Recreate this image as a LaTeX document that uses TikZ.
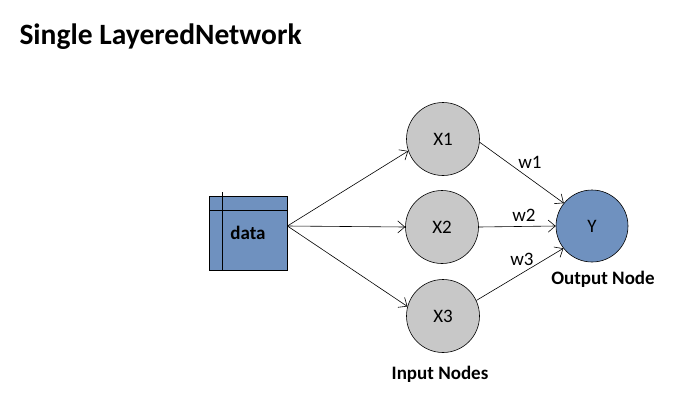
\documentclass[tikz,border=0pt]{standalone}
\usepackage{fontspec}
\setmainfont{Carlito}
\usetikzlibrary{arrows.meta}
\definecolor{nodeblue}{RGB}{111,145,191}
\definecolor{nodegray}{RGB}{200,200,200}
\begin{document}
\begin{tikzpicture}[x=1pt,y=-1pt,
  neuron/.style={circle,draw=black,line width=0.6pt,minimum size=73pt,inner sep=0pt,font=\fontsize{19}{21}\selectfont},
  conn/.style={line width=0.6pt,-{Straight Barb[length=7pt,width=12pt,line width=0.6pt]}},
  lbl/.style={font=\fontsize{19}{21}\selectfont},
  blbl/.style={font=\bfseries\fontsize{19}{21}\selectfont}]
\useasboundingbox (0,0) rectangle (690,418);
\node[anchor=west,font=\bfseries\fontsize{29.5}{32}\selectfont] (title) at (16,37) {Single LayeredNetwork};
% data box
\node[draw=black,fill=nodeblue,line width=0.8pt,minimum width=78pt,minimum height=74pt,inner sep=0pt] (data) at (248,233) {};
\draw[line width=0.8pt] (209,210) -- (287,210);
\draw[line width=0.8pt] (222.5,192) -- (222.5,270);
\node[blbl] (datalbl) at (248,233) {data};
\coordinate (dout) at ([yshift=7pt]data.east);
% nodes
\node[neuron,fill=nodegray] (x1) at (443,139) {X1};
\node[neuron,fill=nodegray] (x2) at (442,227) {X2};
\node[neuron,fill=nodegray] (x3) at (443,316) {X3};
\node[neuron,fill=nodeblue,minimum size=72pt] (y) at (592,226) {Y};
% connectors
\draw[conn] (dout) -- (x1.199);
\draw[conn] (dout) -- (x2.west);
\draw[conn] (dout) -- (x3.165);
\draw[conn] (x1.-5) -- (y.141);
\draw[conn] (x2.east) -- (y.west);
\draw[conn] (x3.25) -- (y.218);
% labels
\node[lbl] (w1) at (530,162) {w1};
\node[lbl] (w2) at (524,215) {w2};
\node[lbl] (w3) at (522,259) {w3};
\node[blbl] (outlbl) at (603,279) {Output Node};
\node[blbl] (inlbl) at (440,374) {Input Nodes};
\end{tikzpicture}
\end{document}
